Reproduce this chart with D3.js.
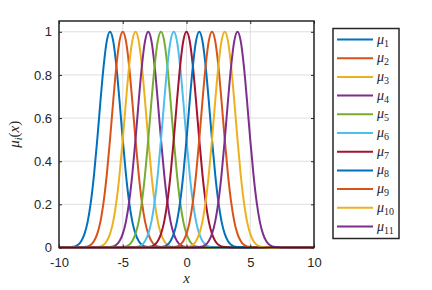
<!DOCTYPE html>
<html>
<head>
<meta charset="utf-8">
<script src="https://cdn.jsdelivr.net/npm/d3@7"></script>
<style>
  body { margin: 0; background: #fff; }
  svg { display: block; }
</style>
</head>
<body>
<svg id="chart" width="432" height="290"></svg>
<script>
// centres of the membership functions
const centers = [-6, -5, -4, -3, -2, -1, 0, 1, 2, 3, 4]
const names = ["1", "2", "3", "4", "5", "6", "7", "8", "9", "10", "11"]
// shape of one curve: distance from centre -> membership (read from mu_1)
const profileOffsets = [0, 0.25, 0.5, 0.75, 1.0, 1.25, 1.5, 1.75, 2.0, 2.25, 2.5, 3.0, 3.5]
const profileValues = [1, 0.958, 0.841, 0.678, 0.50, 0.339, 0.211, 0.120, 0.063, 0.030, 0.013, 0.002, 0]
const xTicks = [-10, -5, 0, 5, 10]
const yTicks = [0, 0.2, 0.4, 0.6, 0.8, 1]
const colors = ["#0072BD", "#D95319", "#EDB120", "#7E2F8E", "#77AC30", "#4DBEEE",
                "#A2142F", "#0072BD", "#D95319", "#EDB120", "#7E2F8E"]

const margin = { top: 21, left: 59, right: 118, bottom: 42.5 }
const width = 432, height = 290
const plotW = width - margin.left - margin.right
const plotH = height - margin.top - margin.bottom

const svg = d3.select("#chart")
const g = svg.append("g").attr("transform", `translate(${margin.left},${margin.top})`)

const x = d3.scaleLinear().domain([-10, 10]).range([0, plotW])
const y = d3.scaleLinear().domain([0, 1.05]).range([plotH, 0])

const axisColor = "#262626"
const tickFont = "'Liberation Sans', Arial, sans-serif"

// grid
g.append("g").selectAll("line").data(xTicks).join("line")
    .attr("x1", d => x(d)).attr("x2", d => x(d))
    .attr("y1", 0).attr("y2", plotH)
    .attr("stroke", "#dfdfdf").attr("stroke-width", 1)
g.append("g").selectAll("line").data(yTicks).join("line")
    .attr("x1", 0).attr("x2", plotW)
    .attr("y1", d => y(d)).attr("y2", d => y(d))
    .attr("stroke", "#dfdfdf").attr("stroke-width", 1)

// curves
function curvePoints(c) {
    const pts = [[-10, 0]]
    const left = profileOffsets.slice(1).reverse().map((o, i) => [c - o, profileValues[profileOffsets.length - 1 - i]])
    const right = profileOffsets.map((o, i) => [c + o, profileValues[i]])
    left.concat(right).forEach(p => { if (p[0] > -10 && p[0] < 10) pts.push(p) })
    pts.push([10, 0])
    return pts
}
const line = d3.line()
    .x(d => x(d[0]))
    .y(d => y(d[1]))
    .curve(d3.curveMonotoneX)

g.append("g").selectAll("path").data(centers).join("path")
    .attr("d", c => line(curvePoints(c)))
    .attr("fill", "none")
    .attr("stroke", (c, i) => colors[i])
    .attr("stroke-width", 2)

// axes
const xAxis = g.append("g")
    .attr("transform", `translate(0,${plotH})`)
    .call(d3.axisBottom(x).tickValues(xTicks).tickSize(-3).tickPadding(10).tickFormat(d => String(d)))
const yAxis = g.append("g")
    .call(d3.axisLeft(y).tickValues(yTicks).tickSize(-3).tickPadding(7).tickFormat(d => d === 0 || d === 1 ? d : d.toFixed(1)))
const xTop = g.append("g")
    .call(d3.axisTop(x).tickValues(xTicks).tickSize(-3).tickFormat(""))
const yRight = g.append("g")
    .attr("transform", `translate(${plotW},0)`)
    .call(d3.axisRight(y).tickValues(yTicks).tickSize(-3).tickFormat(""))

;[xAxis, yAxis, xTop, yRight].forEach(a => {
    a.select(".domain").remove()
    a.selectAll("line").attr("stroke", axisColor).attr("stroke-width", 1)
    a.selectAll("text").attr("fill", axisColor).style("font-family", tickFont).style("font-size", "13px")
})

g.append("rect")
    .attr("x", 0).attr("y", 0).attr("width", plotW).attr("height", plotH)
    .attr("fill", "none").attr("stroke", axisColor).attr("stroke-width", 1.5)

// axis labels
const serif = "'Liberation Serif', 'DejaVu Serif', serif"
svg.append("text")
    .attr("x", margin.left + x(0)).attr("y", 283)
    .attr("text-anchor", "middle")
    .style("font-family", serif).style("font-style", "italic").style("font-size", "15px")
    .attr("fill", axisColor)
    .text("x")

const yl = svg.append("text")
    .attr("transform", `translate(19,${margin.top + plotH / 2}) rotate(-90)`)
    .attr("text-anchor", "middle")
    .style("font-family", serif).style("font-style", "italic").style("font-size", "15px")
    .attr("fill", axisColor)
yl.append("tspan").text("μ")
yl.append("tspan").attr("dy", 3).style("font-size", "10px").text("i")
yl.append("tspan").attr("dy", -3).style("font-style", "normal").text("(")
yl.append("tspan").text("x")
yl.append("tspan").style("font-style", "normal").text(")")

// legend
const lg = svg.append("g").attr("transform", "translate(333,28.5)")
lg.append("rect")
    .attr("width", 66).attr("height", 210)
    .attr("fill", "#fff").attr("stroke", axisColor).attr("stroke-width", 1.5)
const items = lg.selectAll("g.item").data(names).join("g")
    .attr("class", "item")
    .attr("transform", (d, i) => `translate(0,${11 + i * 18.7})`)
items.append("line")
    .attr("x1", 4).attr("x2", 40)
    .attr("stroke", (d, i) => colors[i]).attr("stroke-width", 2)
const lt = items.append("text")
    .attr("x", 44).attr("y", 4)
    .style("font-family", serif).style("font-style", "italic").style("font-size", "14px")
    .attr("fill", axisColor)
lt.append("tspan").text("μ")
lt.append("tspan").attr("dy", 3).style("font-style", "normal").style("font-size", "10px").text(d => d)
</script>
</body>
</html>
